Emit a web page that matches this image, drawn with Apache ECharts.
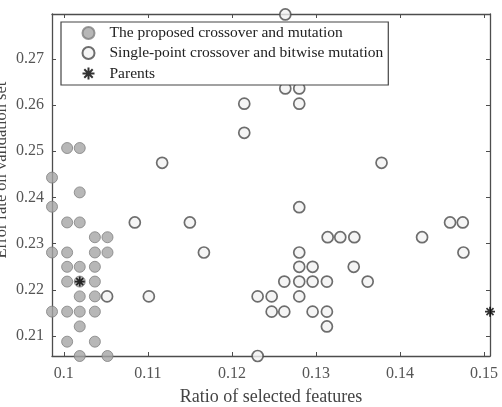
<!DOCTYPE html>
<html>
<head>
<meta charset="utf-8">
<script src="https://cdn.jsdelivr.net/npm/echarts@6/dist/echarts.min.js"></script>
<style>
  html, body { margin: 0; padding: 0; background: #fff; }
  #chart { width: 502px; height: 407px; }
</style>
</head>
<body>
<div id="chart"></div>
<script>
// series names
const seriesNames = ['The proposed crossover and mutation', 'Single-point crossover and bitwise mutation', 'Parents']

// proposed crossover and mutation (grey filled)
const proposedX = [0.1004, 0.1019, 0.0986, 0.1019, 0.0986, 0.1004, 0.1019, 0.1037, 0.1052,
  0.0986, 0.1004, 0.1037, 0.1052, 0.1004, 0.1019, 0.1037, 0.1004, 0.1019, 0.1037,
  0.1019, 0.1037, 0.0986, 0.1004, 0.1019, 0.1037, 0.1019, 0.1004, 0.1037, 0.1019, 0.1052]
const proposedY = [0.2507, 0.2507, 0.2443, 0.2411, 0.2380, 0.2346, 0.2346, 0.2314, 0.2314,
  0.2281, 0.2281, 0.2281, 0.2281, 0.2250, 0.2250, 0.2250, 0.2218, 0.2218, 0.2218,
  0.2186, 0.2186, 0.2153, 0.2153, 0.2153, 0.2153, 0.2121, 0.2088, 0.2088, 0.2057, 0.2057]

// single-point crossover and bitwise mutation (open circles)
const singleX = [0.12635, 0.12635, 0.12801, 0.12147, 0.12801, 0.12147, 0.1117, 0.1378, 0.12801,
  0.10845, 0.1150, 0.14595, 0.14746, 0.13139, 0.13289, 0.13456, 0.14262,
  0.11667, 0.12801, 0.14754, 0.12801, 0.1296, 0.13449,
  0.12623, 0.12801, 0.1296, 0.1313, 0.13615,
  0.10515, 0.11012, 0.12306, 0.12473, 0.12801,
  0.12473, 0.12623, 0.1296, 0.1313, 0.1313, 0.12306]
const singleY = [0.2796, 0.2636, 0.2636, 0.2603, 0.2603, 0.2540, 0.2475, 0.2475, 0.2379,
  0.2346, 0.2346, 0.2346, 0.2346, 0.2314, 0.2314, 0.2314, 0.2314,
  0.2281, 0.2281, 0.2281, 0.2250, 0.2250, 0.2250,
  0.2218, 0.2218, 0.2218, 0.2218, 0.2218,
  0.2186, 0.2186, 0.2186, 0.2186, 0.2186,
  0.2153, 0.2153, 0.2153, 0.2153, 0.2121, 0.2057]

// parents
const parentsX = [0.1019, 0.1507]
const parentsY = [0.2218, 0.2153]

// tick labels
const xTicks = [0.1, 0.11, 0.12, 0.13, 0.14, 0.15]
const yTicks = [0.21, 0.22, 0.23, 0.24, 0.25, 0.26, 0.27]

const zip = (xs, ys) => xs.map((x, i) => [x, ys[i]])

// asterisk drawn as stroked lines
const star = 'path://M0 5L10 5M5 0L5 10M1.5 1.5L8.5 8.5M1.5 8.5L8.5 1.5'

const font = 'Liberation Serif'
const axisColor = '#4d4d4d'

const mychart = echarts.init(document.getElementById('chart'))

const xBase = {
  type: 'value', min: 0.0986, max: 0.1507,
  axisLine: { lineStyle: { color: axisColor, width: 1.3 } },
  axisTick: { inside: true, length: 4, customValues: xTicks, lineStyle: { color: axisColor } },
  splitLine: { show: false }
}
const yBase = {
  type: 'value', min: 0.2057, max: 0.2797,
  axisLine: { lineStyle: { color: axisColor, width: 1.3 } },
  axisTick: { inside: true, length: 4, customValues: yTicks, lineStyle: { color: axisColor } },
  splitLine: { show: false }
}

mychart.setOption({
  animation: false,
  grid: { left: 52, right: 12, top: 14, bottom: 51, outerBoundsMode: 'none', containLabel: false },
  xAxis: [
    {
      ...xBase,
      position: 'bottom',
      name: 'Ratio of selected features',
      nameLocation: 'middle',
      nameGap: 32,
      nameMoveOverlap: false,
      nameTextStyle: { fontFamily: font, fontSize: 18, color: '#444' },
      axisLabel: { customValues: xTicks, margin: 10, fontFamily: font, fontSize: 16, color: '#555' }
    },
    { ...xBase, position: 'top', axisLabel: { show: false } }
  ],
  yAxis: [
    {
      ...yBase,
      position: 'left',
      name: 'Error rate on validation set',
      nameLocation: 'middle',
      nameGap: 42,
      nameMoveOverlap: false,
      nameTextStyle: { fontFamily: font, fontSize: 16.5, color: '#444', padding: [0, 0, 0, 30] },
      axisLabel: { customValues: yTicks, margin: 8, fontFamily: font, fontSize: 16, color: '#555' }
    },
    { ...yBase, position: 'right', axisLabel: { show: false } }
  ],
  legend: {
    orient: 'vertical',
    left: 61,
    top: 22,
    padding: [3, 5, 3, 19],
    itemGap: 4,
    itemWidth: 12,
    itemHeight: 12,
    backgroundColor: '#fff',
    borderColor: '#444',
    borderWidth: 1.2,
    borderRadius: 0,
    textStyle: { fontFamily: font, fontSize: 15.5, color: '#222', padding: [0, 0, 0, 10] },
    data: seriesNames
  },
  series: [
    {
      type: 'scatter',
      name: seriesNames[0],
      data: zip(proposedX, proposedY),
      symbol: 'circle',
      symbolSize: 11,
      itemStyle: { color: '#a5a5a5', borderColor: '#7f7f7f', borderWidth: 1 }
    },
    {
      type: 'scatter',
      name: seriesNames[1],
      data: zip(singleX, singleY),
      symbol: 'circle',
      symbolSize: 11,
      itemStyle: { color: '#f2f2f2', borderColor: '#4a4a4a', borderWidth: 1.7 }
    },
    {
      type: 'scatter',
      name: seriesNames[2],
      data: zip(parentsX, parentsY),
      symbol: star,
      symbolSize: 10,
      z: 5,
      itemStyle: { color: 'none', borderColor: '#000', borderWidth: 1.7 }
    }
  ]
})
</script>
</body>
</html>
